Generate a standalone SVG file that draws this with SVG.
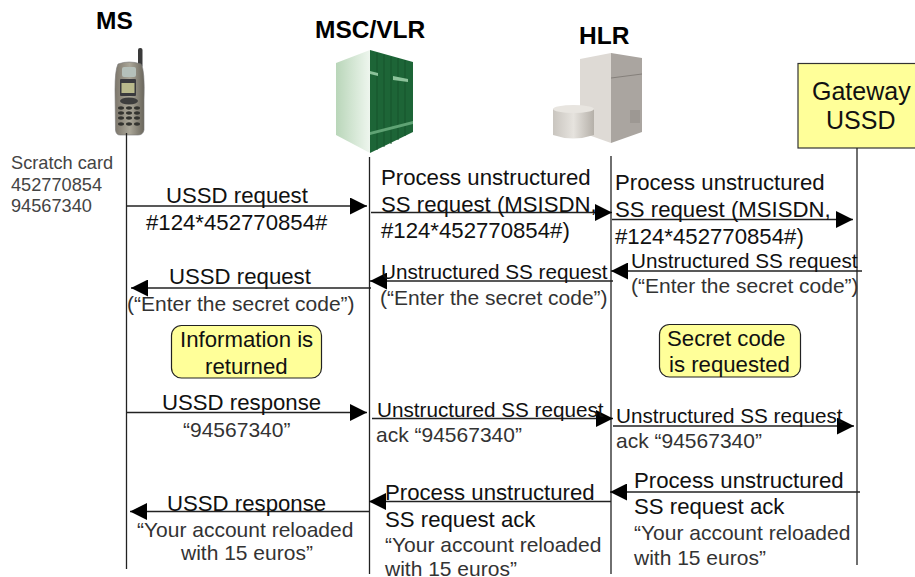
<svg xmlns="http://www.w3.org/2000/svg" width="915" height="577" viewBox="0 0 915 577">
<style>
text{font-family:"Liberation Sans",Arial,sans-serif;fill:#111}
.t{font-size:22.2px}
.u{font-size:20.7px}
.g{font-size:21px;fill:#333}
.h{font-size:24.5px;font-weight:bold;fill:#000}
.s{font-size:18.2px;fill:#444}
.b{font-size:25px;fill:#111}
.n{font-size:22.2px;fill:#111}
.life{stroke:#222;stroke-width:1.3;fill:none}
.msg{stroke:#222;stroke-width:1.5;fill:none;marker-end:url(#ah)}
.note{fill:#ffff99;stroke:#222;stroke-width:1.2}
</style>
<defs>
<marker id="ah" markerUnits="userSpaceOnUse" markerWidth="17" markerHeight="17" refX="17" refY="8.5" orient="auto"><polygon points="0,0 17,8.5 0,17" fill="#000"/></marker>
<linearGradient id="mscL" x1="0" x2="1" y1="0" y2="0"><stop offset="0" stop-color="#b9d6b9"/><stop offset="1" stop-color="#eef6ee"/></linearGradient>
<linearGradient id="cyl" x1="0" x2="1" y1="0" y2="0"><stop offset="0" stop-color="#c9c5bf"/><stop offset=".5" stop-color="#e6e3de"/><stop offset="1" stop-color="#b5b0a9"/></linearGradient>
<linearGradient id="ph" x1="0" x2="1" y1="0" y2="0"><stop offset="0" stop-color="#7d776c"/><stop offset=".5" stop-color="#aaa698"/><stop offset="1" stop-color="#6a665c"/></linearGradient>
</defs>

<g id="node-ms">
<rect x="138" y="48" width="4.5" height="20" rx="2" fill="#3a3a3a"/>
<path d="M118 64Q129 60 141 64Q145 70 144 100L144 130Q143 135 138 135L120 135Q116 135 115.500 130L115 90Q115 70 118 64Z" fill="url(#ph)" stroke="#777" stroke-width=".6"/>
<rect x="122" y="67" width="14" height="10" rx="2" fill="#b5c0ba"/>
<rect x="120" y="79" width="16" height="17" rx="1" fill="#3a3a3e"/>
<rect x="121.500" y="83" width="13" height="10" fill="#b9b98c"/>
<ellipse cx="129" cy="101" rx="9" ry="3.500" fill="#3d3d3d"/>
<g fill="#33332f">
<ellipse cx="121" cy="108" rx="3" ry="1.700"/><ellipse cx="129" cy="108" rx="3" ry="1.700"/><ellipse cx="137" cy="108" rx="3" ry="1.700"/>
<ellipse cx="121" cy="113" rx="3" ry="1.700"/><ellipse cx="129" cy="113" rx="3" ry="1.700"/><ellipse cx="137" cy="113" rx="3" ry="1.700"/>
<ellipse cx="121" cy="118" rx="3" ry="1.700"/><ellipse cx="129" cy="118" rx="3" ry="1.700"/><ellipse cx="137" cy="118" rx="3" ry="1.700"/>
<ellipse cx="121" cy="124" rx="3" ry="1.700"/><ellipse cx="129" cy="124" rx="3" ry="1.700"/><ellipse cx="137" cy="124" rx="3" ry="1.700"/>
</g>
<text class="h" x="96" y="29">MS</text>
</g>

<g id="node-msc">
<polygon points="336,63 370,50 370,153 336,135" fill="url(#mscL)"/>
<polygon points="370,50 413,62 413,132 370,153" fill="#1d6537"/>
<g stroke="#17552d" stroke-width="1"><line x1="377" y1="53" x2="377" y2="150"/><line x1="384" y1="55" x2="384" y2="147"/><line x1="391" y1="57" x2="391" y2="144"/><line x1="398" y1="58" x2="398" y2="140"/><line x1="405" y1="60" x2="405" y2="136"/></g>
<polygon points="370,71 378,73 378,76 370,74" fill="#8cc29a"/>
<polygon points="393,76 408,79 408,82 393,80" fill="#8cc29a"/>
<polygon points="370,132 413,121 413,124 370,135" fill="#5fa374"/>
<text class="h" x="315" y="38">MSC/VLR</text>
</g>

<g id="node-hlr">
<polygon points="580,59 611,53 611,143 580,132" fill="#dedad5"/>
<polygon points="611,53 642,58 642,132 611,143" fill="#aaa5a0"/>
<line x1="611" y1="78" x2="642" y2="74" stroke="#85807b"/>
<rect x="630" y="110" width="10" height="13" fill="#9d9893"/>
<path d="M553 109V135Q573 142 594 135V109Z" fill="url(#cyl)"/>
<ellipse cx="573.500" cy="109" rx="20.500" ry="4" fill="#e8e5e0"/>
<text class="h" x="579" y="44">HLR</text>
</g>

<g id="node-gateway">
<rect x="798" y="63.500" width="125" height="84.500" fill="#ffff99" stroke="#333" stroke-width="1.200"/>
<text class="b" x="812" y="100">Gateway</text>
<text class="b" x="826" y="129">USSD</text>
</g>

<g id="connectors">
<line class="life" x1="126.500" y1="133" x2="126.500" y2="569"/>
<line class="life" x1="369.500" y1="157" x2="369.500" y2="574"/>
<line class="life" x1="611" y1="156" x2="611" y2="574"/>
<line class="life" x1="857" y1="148" x2="857" y2="565" stroke="#444" stroke-width="1.500"/>
<line class="msg" x1="126" y1="206" x2="367" y2="206"/>
<line class="msg" x1="371" y1="212.500" x2="612" y2="212.500"/>
<line class="msg" x1="612" y1="219.500" x2="853" y2="219.500"/>
<line class="msg" x1="862" y1="271" x2="611" y2="271"/>
<line class="msg" x1="613" y1="281" x2="370" y2="281"/>
<line class="msg" x1="371" y1="288" x2="131" y2="288"/>
<line class="msg" x1="126" y1="412.500" x2="367" y2="412.500"/>
<line class="msg" x1="372" y1="418.500" x2="613" y2="418.500"/>
<line class="msg" x1="613" y1="426" x2="854" y2="426"/>
<line class="msg" x1="860" y1="492" x2="610" y2="492"/>
<line class="msg" x1="611" y1="501.500" x2="369" y2="501.500"/>
<line class="msg" x1="369" y1="511.500" x2="130" y2="511.500"/>
</g>

<g id="note-information">
<rect class="note" x="171.500" y="325.500" width="150" height="52.500" rx="10"/>
<text class="n" x="180" y="347">Information is</text>
<text class="n" x="205" y="374">returned</text>
</g>
<g id="note-secret">
<rect class="note" x="659.500" y="324.500" width="141" height="52.500" rx="10"/>
<text class="n" x="667" y="346">Secret code</text>
<text class="n" x="669" y="372">is requested</text>
</g>

<g id="labels">
<text class="s" x="11" y="169">Scratch card</text>
<text class="s" x="11" y="191">452770854</text>
<text class="s" x="11" y="212">94567340</text>

<text class="t" x="166" y="203">USSD request</text>
<text class="t" x="146" y="230">#124*452770854#</text>
<text class="t" x="169" y="284">USSD request</text>
<text class="g" x="127" y="311">(“Enter the secret code”)</text>

<text class="t" x="381" y="185">Process unstructured</text>
<text class="t" x="381" y="212">SS request (MSISDN,</text>
<text class="t" x="381" y="238">#124*452770854#)</text>
<text class="u" x="381" y="279">Unstructured SS request</text>
<text class="g" x="380" y="305">(“Enter the secret code”)</text>

<text class="t" x="615" y="190">Process unstructured</text>
<text class="t" x="615" y="217">SS request (MSISDN,</text>
<text class="t" x="615" y="244">#124*452770854#)</text>
<text class="u" x="631" y="268">Unstructured SS request</text>
<text class="g" x="631" y="293">(“Enter the secret code”)</text>

<text class="t" x="162" y="410">USSD response</text>
<text class="g" x="183" y="437">“94567340”</text>
<text class="u" x="377" y="417">Unstructured SS request</text>
<text class="g" x="376" y="442">ack “94567340”</text>
<text class="u" x="616" y="423">Unstructured SS request</text>
<text class="g" x="616" y="448">ack “94567340”</text>

<text class="t" x="167" y="511">USSD response</text>
<text class="g" x="137" y="537">“Your account reloaded</text>
<text class="g" x="181" y="560">with 15 euros”</text>
<text class="t" x="385" y="500">Process unstructured</text>
<text class="t" x="385" y="527">SS request ack</text>
<text class="g" x="385" y="552">“Your account reloaded</text>
<text class="g" x="385" y="576">with 15 euros”</text>
<text class="t" x="634" y="488">Process unstructured</text>
<text class="t" x="634" y="514">SS request ack</text>
<text class="g" x="634" y="540">“Your account reloaded</text>
<text class="g" x="634" y="565">with 15 euros”</text>
</g>
</svg>
